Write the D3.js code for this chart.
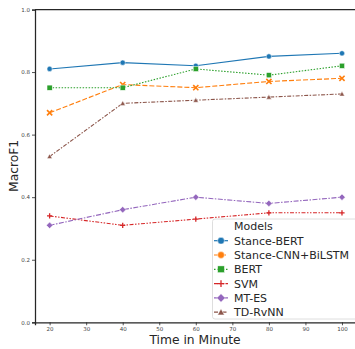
<!DOCTYPE html>
<html>
<head>
<meta charset="utf-8">
<script src="https://cdn.jsdelivr.net/npm/d3@7"></script>
<style>
  body { margin: 0; background: #fff; }
  svg { display: block; font-family: "DejaVu Sans", sans-serif; }
</style>
</head>
<body>
<svg id="chart" width="355" height="349"></svg>
<script>
// Data
const minutes = [20, 40, 60, 80, 100];
const models = ["Stance-BERT", "Stance-CNN+BiLSTM", "BERT", "SVM", "MT-ES", "TD-RvNN"];
const stanceBert = [0.81, 0.83, 0.82, 0.85, 0.86];
const stanceCnnBilstm = [0.67, 0.76, 0.75, 0.77, 0.78];
const bert = [0.75, 0.75, 0.81, 0.79, 0.82];
const svmScores = [0.34, 0.31, 0.33, 0.35, 0.35];
const mtEs = [0.31, 0.36, 0.40, 0.38, 0.40];
const tdRvnn = [0.53, 0.70, 0.71, 0.72, 0.73];
const xTicks = [20, 30, 40, 50, 60, 70, 80, 90, 100];
const yTicks = [0.0, 0.2, 0.4, 0.6, 0.8, 1.0];

const seriesValues = [stanceBert, stanceCnnBilstm, bert, svmScores, mtEs, tdRvnn];
const colors = ["#1f77b4", "#ff7f0e", "#2ca02c", "#d62728", "#9467bd", "#8c564b"];
const dashes = ["", "5,2", "1.5,1.5", "4,1.5,1.5,1.5,1.5,1.5", "5,1.5,1.5,1.5", "4,1.5,1.5,1.5"];
const symbols = ["circle", "cross-x", "square", "plus", "diamond", "triangle"];

const margin = { top: 9.5, right: -1.6, bottom: 26.7, left: 35 };
const width = 355, height = 349;

const svg = d3.select("#chart");

const x = d3.scaleLinear()
    .domain([16, 104])
    .range([margin.left, width - margin.right]);
const y = d3.scaleLinear()
    .domain([0, 1])
    .range([height - margin.bottom, margin.top]);

// Marker drawing
function drawMarker(g, type, color, size) {
    const s = size;
    if (type === "circle") {
        g.append("circle").attr("r", s).attr("fill", color).attr("stroke", "#fff").attr("stroke-width", 0.5);
    } else if (type === "square") {
        g.append("rect").attr("x", -s).attr("y", -s).attr("width", 2 * s).attr("height", 2 * s)
            .attr("fill", color).attr("stroke", "#fff").attr("stroke-width", 0.5);
    } else if (type === "diamond") {
        g.append("path").attr("d", `M0,${-s * 1.25}L${s * 1.25},0L0,${s * 1.25}L${-s * 1.25},0Z`)
            .attr("fill", color).attr("stroke", "#fff").attr("stroke-width", 0.5);
    } else if (type === "triangle") {
        g.append("path").attr("d", `M0,${-s}L${s},${s * 0.8}L${-s},${s * 0.8}Z`)
            .attr("fill", color).attr("stroke", "#fff").attr("stroke-width", 0.5);
    } else if (type === "cross-x") {
        g.append("path").attr("d", `M${-s},${-s}L${s},${s}M${-s},${s}L${s},${-s}`)
            .attr("stroke", color).attr("stroke-width", 1.6).attr("fill", "none");
    } else if (type === "plus") {
        g.append("path").attr("d", `M0,${-s}L0,${s}M${-s},0L${s},0`)
            .attr("stroke", color).attr("stroke-width", 1.3).attr("fill", "none");
    }
}

// Axes
const xAxis = svg.append("g")
    .attr("transform", `translate(0,${y(0)})`)
    .call(d3.axisBottom(x).tickValues(xTicks).tickSize(3).tickPadding(2).tickFormat(d3.format("d")));
const yAxis = svg.append("g")
    .attr("transform", `translate(${margin.left},0)`)
    .call(d3.axisLeft(y).tickValues(yTicks).tickSize(3).tickPadding(2).tickFormat(d3.format(".1f")));

[xAxis, yAxis].forEach(a => {
    a.select(".domain").attr("stroke", "#262626").attr("stroke-width", 1.25);
    a.selectAll(".tick line").attr("stroke", "#262626").attr("stroke-width", 0.8);
    a.selectAll(".tick text").attr("fill", "#444").style("font-size", "5.5px")
        .style("font-family", "DejaVu Sans, sans-serif");
});

// Top spine
svg.append("line")
    .attr("x1", margin.left).attr("x2", width)
    .attr("y1", y(1)).attr("y2", y(1))
    .attr("stroke", "#262626").attr("stroke-width", 1.25);

// Lines
const line = d3.line()
    .x((d, i) => x(minutes[i]))
    .y(d => y(d));

seriesValues.forEach((vals, k) => {
    svg.append("path")
        .datum(vals)
        .attr("d", line)
        .attr("fill", "none")
        .attr("stroke", colors[k])
        .attr("stroke-width", 1.1)
        .attr("stroke-dasharray", dashes[k]);
    vals.forEach((v, i) => {
        const g = svg.append("g").attr("transform", `translate(${x(minutes[i])},${y(v)})`);
        drawMarker(g, symbols[k], colors[k], 2.6);
    });
});

// Axis labels
svg.append("text")
    .attr("x", 195)
    .attr("y", 344)
    .attr("text-anchor", "middle")
    .style("font-size", "12.3px")
    .attr("fill", "#262626")
    .text("Time in Minute");

svg.append("text")
    .attr("transform", `translate(18,${(y(0) + y(1)) / 2}) rotate(-90)`)
    .attr("text-anchor", "middle")
    .style("font-size", "12.3px")
    .attr("fill", "#262626")
    .text("MacroF1");

// Legend
const legend = svg.append("g").attr("transform", "translate(212.5,219)");
legend.append("rect")
    .attr("x", 0).attr("y", 0)
    .attr("width", 150).attr("height", 100)
    .attr("rx", 2.5)
    .attr("fill", "#fff").attr("fill-opacity", 0.85)
    .attr("stroke", "#d6d6d6").attr("stroke-width", 0.8);
legend.append("text")
    .attr("x", 21.5).attr("y", 11.3)
    .style("font-size", "11px")
    .attr("fill", "#262626")
    .text("Models");
models.forEach((name, k) => {
    const cy = 21.7 + k * 14.3;
    legend.append("line")
        .attr("x1", 1.5).attr("x2", 15.5)
        .attr("y1", cy).attr("y2", cy)
        .attr("stroke", colors[k]).attr("stroke-width", 1.2)
        .attr("stroke-dasharray", dashes[k]);
    const g = legend.append("g").attr("transform", `translate(8.5,${cy})`);
    drawMarker(g, symbols[k] === "cross-x" ? "circle" : symbols[k], colors[k], 3.4);
    legend.append("text")
        .attr("x", 21.5).attr("y", cy + 4)
        .style("font-size", "11px")
        .attr("fill", "#262626")
        .text(name);
});
</script>
</body>
</html>
